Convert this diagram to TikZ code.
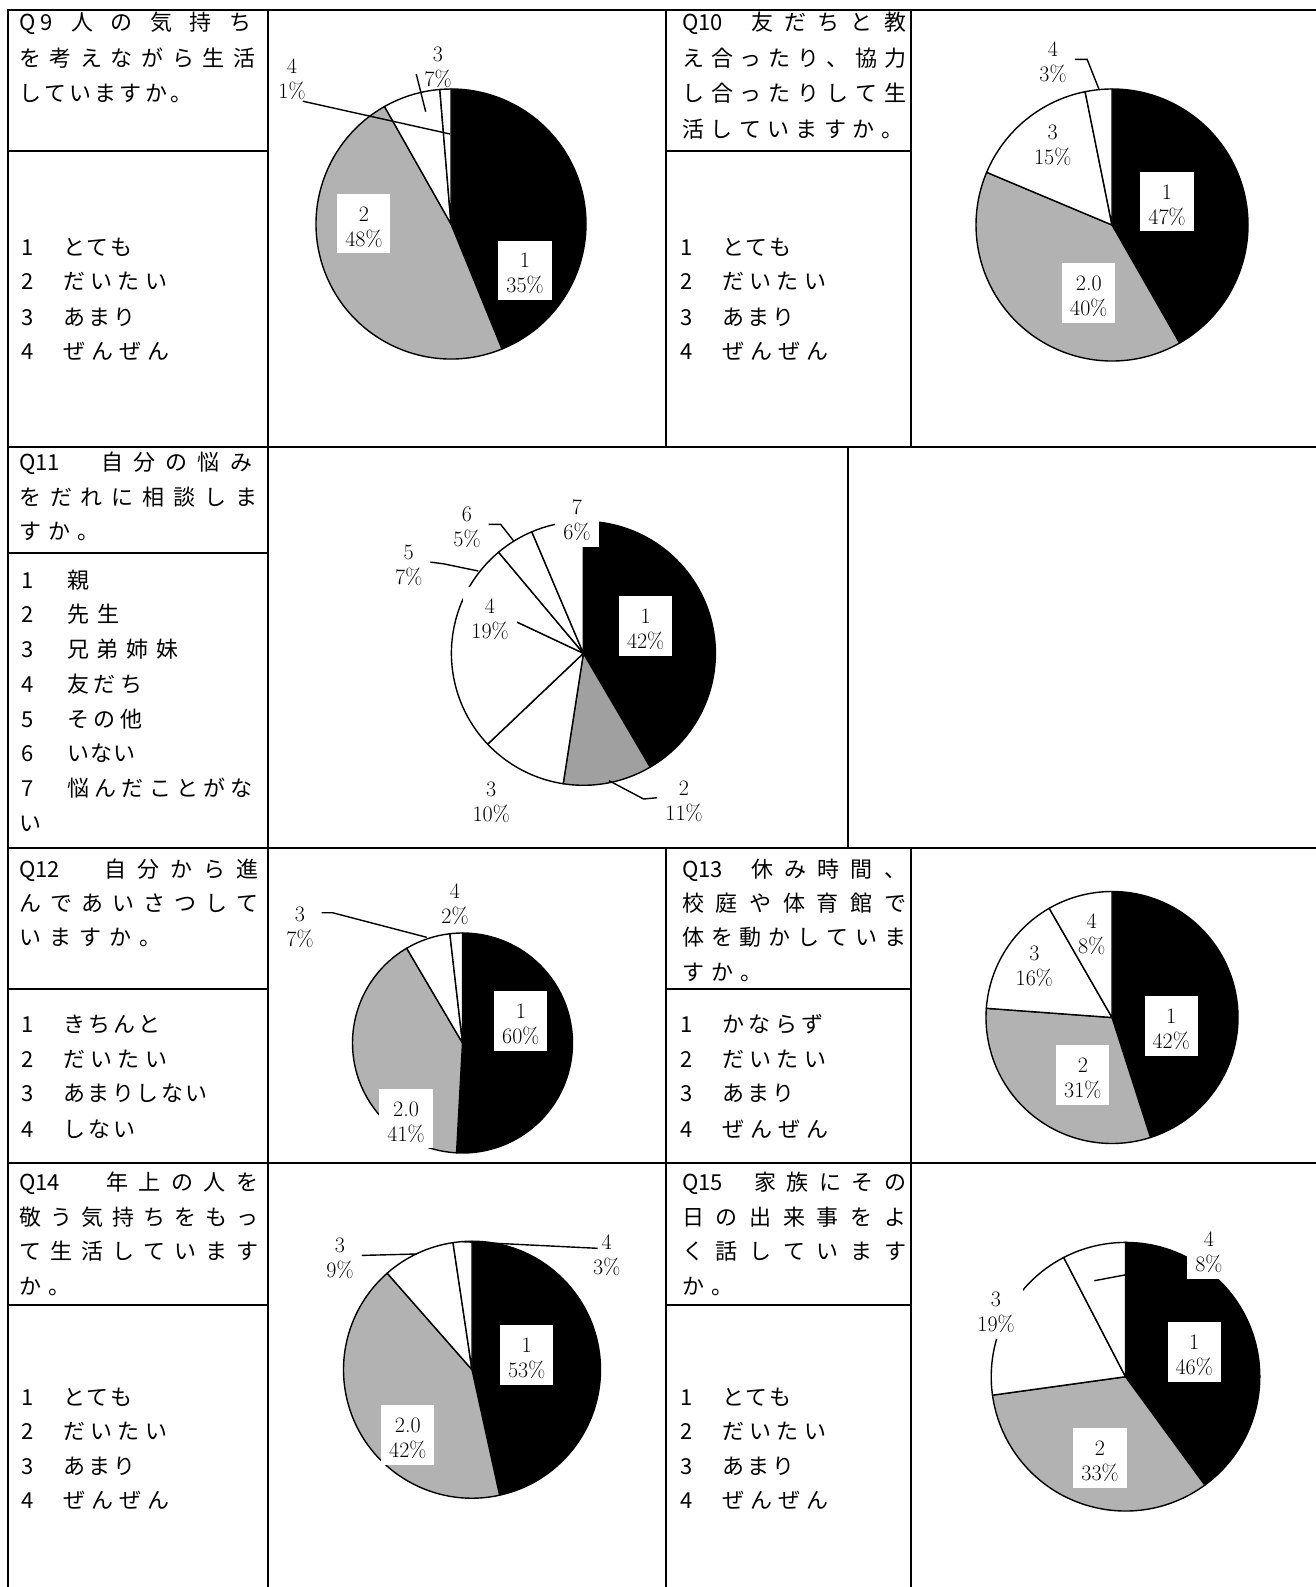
\documentclass[tikz,border=0pt]{standalone}
\usepackage{fontspec}
\newfontfamily\jf{Noto Sans CJK JP}
\newdimen\jpitch
\newcommand\jsend{}
\def\jploop#1{\ifx\jsend#1\else\makebox[\jpitch][l]{#1}\expandafter\jploop\fi}
\newcommand\pitched[2]{\jpitch=#1pt\relax\jploop#2\jsend}
\def\jsloop#1{\ifx\jsend#1\else#1\hfill\expandafter\jsloop\fi}
\newcommand\spreadto[2]{\makebox[#1pt][l]{\jsloop#2\jsend\unskip}}
\newcommand\optline[3]{\makebox[42pt][l]{#1}\pitched{#2}{#3}}
\newcommand\optlinew[3]{\makebox[46pt][l]{#1}\pitched{#2}{#3}}
\newcommand\labtxt[2]{\rule{0pt}{21pt}#1\\#2}
\definecolor{pgray}{RGB}{178,178,178}
\definecolor{pgrayd}{RGB}{160,160,160}
\newcommand\pieslice[6]{%
  \begin{scope}[shift={(#1,#2)},y=1pt]
    \filldraw[fill=#6,draw=black,line width=1.4pt,line join=round]
      (0,0) -- (#4:#3) arc[start angle=#4,end angle=#5,radius=#3] -- cycle;
  \end{scope}}
\tikzset{
  gline/.style={line width=2pt,line cap=rect},
  jt/.style={anchor=base west,inner sep=0pt,font={\jf\fontsize{22}{22}\selectfont}},
  lbl/.style={fill=white,inner xsep=8pt,inner ysep=6pt,align=center,anchor=center,
    font={\fontsize{22}{25}\selectfont}},
  lblc/.style={lbl,fill=none},
  leadln/.style={line width=1.4pt}
}
\begin{document}
\begin{tikzpicture}[x=1pt,y=-1pt]
\useasboundingbox (0,0) rectangle (1316,1587);
\fill[white] (0,0) rectangle (1316,1587);

% ---------------- grid ----------------
\draw[gline] (8,10) -- (1316,10);
\draw[gline] (8,447) -- (1316,447);
\draw[gline] (8,848) -- (1316,848);
\draw[gline] (8,1163) -- (1316,1163);
\draw[gline] (8,151) -- (268,151);
\draw[gline] (666,151) -- (911,151);
\draw[gline] (8,553) -- (268,553);
\draw[gline] (8,989) -- (268,989);
\draw[gline] (666,989) -- (911,989);
\draw[gline] (8,1305) -- (268,1305);
\draw[gline] (666,1305) -- (911,1305);
\draw[gline] (8,10) -- (8,1587);
\draw[gline] (268,10) -- (268,1587);
\draw[gline] (666,10) -- (666,447);
\draw[gline] (666,848) -- (666,1587);
\draw[gline] (911,10) -- (911,447);
\draw[gline] (911,848) -- (911,1587);
\draw[gline] (848,447) -- (848,848);

% ---------------- Q9 text ----------------
\node[jt] (q9a) at (19,30.7) {\pitched{21}{Q9}};
\node[jt] (q9b) at (71,30.7) {\spreadto{180}{人の気持ち}};
\node[jt] (q9c) at (19,66.1) {\spreadto{236}{を考えながら生活}};
\node[jt] (q9d) at (19,101.5) {\pitched{25.2}{していますか。}};
\node[jt] (q9o1) at (21,255.4) {\optline{1}{23.5}{とても}};
\node[jt] (q9o2) at (21,289.8) {\optline{2}{27.3}{だいたい}};
\node[jt] (q9o3) at (21,325.3) {\optline{3}{25}{あまり}};
\node[jt] (q9o4) at (21,359.7) {\optline{4}{28}{ぜんぜん}};

% ---------------- Q10 text ----------------
\node[jt] (q10a) at (682,30.7) {Q10};
\node[jt] (q10b) at (751,30.7) {\spreadto{155}{友だちと教}};
\node[jt] (q10c) at (682,66.1) {\spreadto{224}{え合ったり、協力}};
\node[jt] (q10d) at (682,101.5) {\spreadto{224}{し合ったりして生}};
\node[jt] (q10e) at (682,137) {\spreadto{221}{活していますか。}};
\node[jt] (q10o1) at (680,255.4) {\optline{1}{23.5}{とても}};
\node[jt] (q10o2) at (680,289.8) {\optline{2}{27.3}{だいたい}};
\node[jt] (q10o3) at (680,325.3) {\optline{3}{25}{あまり}};
\node[jt] (q10o4) at (680,359.7) {\optline{4}{28}{ぜんぜん}};

% ---------------- Q11 text ----------------
\node[jt] (q11a) at (19,470) {Q11};
\node[jt] (q11b) at (101,470) {\spreadto{151}{自分の悩み}};
\node[jt] (q11c) at (19,505.4) {\spreadto{238}{をだれに相談しま}};
\node[jt] (q11d) at (19,539.9) {\pitched{29}{すか。}};
\node[jt] (q11o1) at (21,588.4) {\optlinew{1}{28}{親}};
\node[jt] (q11o2) at (21,622.9) {\optlinew{2}{30.5}{先生}};
\node[jt] (q11o3) at (21,657.4) {\optlinew{3}{29.7}{兄弟姉妹}};
\node[jt] (q11o4) at (21,692.7) {\optlinew{4}{26.5}{友だち}};
\node[jt] (q11o5) at (21,727.1) {\optlinew{5}{26.5}{その他}};
\node[jt] (q11o6) at (21,761.6) {\optlinew{6}{23}{いない}};
\node[jt] (q11o7) at (21,796) {\optlinew{7}{27.3}{悩んだことがな}};
\node[jt] (q11o8) at (19,831.4) {い};

% ---------------- Q12 text ----------------
\node[jt] (q12a) at (19,877) {Q12};
\node[jt] (q12b) at (104,877) {\spreadto{154}{自分から進}};
\node[jt] (q12c) at (19,911.4) {\spreadto{239}{んであいさつして}};
\node[jt] (q12d) at (19,945.8) {\pitched{30}{いますか。}};
\node[jt] (q12o1) at (21,1032.9) {\optline{1}{25}{きちんと}};
\node[jt] (q12o2) at (21,1067.3) {\optline{2}{27.3}{だいたい}};
\node[jt] (q12o3) at (21,1101.7) {\optline{3}{24.5}{あまりしない}};
\node[jt] (q12o4) at (21,1137.1) {\optline{4}{25}{しない}};

% ---------------- Q13 text ----------------
\node[jt] (q13a) at (682,877) {Q13};
\node[jt] (q13b) at (751,877) {\spreadto{155}{休み時間、}};
\node[jt] (q13c) at (682,911.4) {\spreadto{224}{校庭や体育館で}};
\node[jt] (q13d) at (682,945.8) {\spreadto{224}{体を動かしていま}};
\node[jt] (q13e) at (682,980.2) {\pitched{29}{すか。}};
\node[jt] (q13o1) at (680,1032.9) {\optline{1}{26.5}{かならず}};
\node[jt] (q13o2) at (680,1067.3) {\optline{2}{27.3}{だいたい}};
\node[jt] (q13o3) at (680,1101.7) {\optline{3}{25}{あまり}};
\node[jt] (q13o4) at (680,1137.1) {\optline{4}{28}{ぜんぜん}};

% ---------------- Q14 text ----------------
\node[jt] (q14a) at (19,1190.8) {Q14};
\node[jt] (q14b) at (106,1190.8) {\spreadto{152}{年上の人を}};
\node[jt] (q14c) at (19,1225.2) {\spreadto{239}{敬う気持ちをもっ}};
\node[jt] (q14d) at (19,1259.6) {\spreadto{239}{て生活しています}};
\node[jt] (q14e) at (19,1294) {\pitched{29}{か。}};
\node[jt] (q14o1) at (21,1405.4) {\optline{1}{23.5}{とても}};
\node[jt] (q14o2) at (21,1439.8) {\optline{2}{27.3}{だいたい}};
\node[jt] (q14o3) at (21,1474.2) {\optline{3}{25}{あまり}};
\node[jt] (q14o4) at (21,1508.6) {\optline{4}{28}{ぜんぜん}};

% ---------------- Q15 text ----------------
\node[jt] (q15a) at (682,1190.8) {Q15};
\node[jt] (q15b) at (754,1190.8) {\spreadto{152}{家族にその}};
\node[jt] (q15c) at (682,1225.2) {\spreadto{224}{日の出来事をよ}};
\node[jt] (q15d) at (682,1259.6) {\spreadto{224}{く話しています}};
\node[jt] (q15e) at (682,1294) {\pitched{29}{か。}};
\node[jt] (q15o1) at (680,1405.4) {\optline{1}{23.5}{とても}};
\node[jt] (q15o2) at (680,1439.8) {\optline{2}{27.3}{だいたい}};
\node[jt] (q15o3) at (680,1474.2) {\optline{3}{25}{あまり}};
\node[jt] (q15o4) at (680,1508.6) {\optline{4}{28}{ぜんぜん}};

% ---------------- pies ----------------
% Q9
\pieslice{451}{224}{135}{90}{-67.8}{black}
\pieslice{451}{224}{135}{-67.8}{-240.5}{pgray}
\pieslice{451}{224}{135}{-240.5}{-265.25}{white}
\pieslice{451}{224}{135}{-265.25}{-270}{white}
% Q10
\pieslice{1112}{225}{136}{90}{-60.2}{black}
\pieslice{1112}{225}{136}{-60.2}{-202.8}{pgray}
\pieslice{1112}{225}{136}{-202.8}{-258.6}{white}
\pieslice{1112}{225}{136}{-258.6}{-270}{white}
% Q11
\pieslice{583.4}{653.3}{132}{90}{-59.6}{black}
\pieslice{583.4}{653.3}{132}{-59.6}{-98.8}{pgrayd}
\pieslice{583.4}{653.3}{132}{-98.8}{-136.5}{white}
\pieslice{583.4}{653.3}{132}{-136.5}{-205.2}{white}
\pieslice{583.4}{653.3}{132}{-205.2}{-230}{white}
\pieslice{583.4}{653.3}{132}{-230}{-247}{white}
\pieslice{583.4}{653.3}{132}{-247}{-270}{white}
% Q12
\pieslice{462.5}{1043}{110}{90}{-93.1}{black}
\pieslice{462.5}{1043}{110}{-93.1}{-239.5}{pgray}
\pieslice{462.5}{1043}{110}{-239.5}{-263.4}{white}
\pieslice{462.5}{1043}{110}{-263.4}{-270}{white}
% Q13
\pieslice{1112}{1017.5}{126}{90}{-72.2}{black}
\pieslice{1112}{1017.5}{126}{-72.2}{-184.2}{pgray}
\pieslice{1112}{1017.5}{126}{-184.2}{-240.1}{white}
\pieslice{1112}{1017.5}{126}{-240.1}{-270}{white}
% Q14
\pieslice{472}{1369.7}{128.5}{90}{-77.6}{black}
\pieslice{472}{1369.7}{128.5}{-77.6}{-228.7}{pgray}
\pieslice{472}{1369.7}{128.5}{-228.7}{-261.5}{white}
\pieslice{472}{1369.7}{128.5}{-261.5}{-270}{white}
% Q15
\pieslice{1125.5}{1376.7}{134.3}{90}{-53.8}{black}
\pieslice{1125.5}{1376.7}{134.3}{-53.8}{-172.1}{pgray}
\pieslice{1125.5}{1376.7}{134.3}{-172.1}{-242.6}{white}
\pieslice{1125.5}{1376.7}{134.3}{-242.6}{-270}{white}

% ---------------- data labels ----------------
\node[lbl]  (q9l1) at (525,270.3) {\labtxt{1}{35\%}};
\node[lbl]  (q9l2) at (363.9,223.7) {\labtxt{2}{48\%}};
\node[lblc] (q9l3) at (438,64.4) {\labtxt{3}{7\%}};
\node[lbl]  (q9l4) at (292,76.4) {\labtxt{4}{1\%}};

\node[lbl]  (q10l1) at (1167,201.7) {\labtxt{1}{47\%}};
\node[lbl]  (q10l2) at (1088.8,293) {\labtxt{2.0}{40\%}};
\node[lblc] (q10l3) at (1052.7,142.4) {\labtxt{3}{15\%}};
\node[lblc] (q10l4) at (1053,59.4) {\labtxt{4}{3\%}};

\node[lbl]  (q11l1) at (645.6,626) {\labtxt{1}{42\%}};
\node[lbl]  (q11l2) at (684,797.7) {\labtxt{2}{11\%}};
\node[lbl]  (q11l3) at (491.2,799.4) {\labtxt{3}{10\%}};
\node[lbl]  (q11l4) at (490,616.1) {\labtxt{4}{19\%}};
\node[lbl]  (q11l5) at (408.7,562.1) {\labtxt{5}{7\%}};
\node[lbl]  (q11l6) at (467,524.4) {\labtxt{6}{5\%}};
\node[lbl]  (q11l7) at (577,517.4) {\labtxt{7}{6\%}};

\node[lbl]  (q12l1) at (520.8,1020.9) {\labtxt{1}{60\%}};
\node[lbl]  (q12l2) at (406,1118.7) {\labtxt{2.0}{41\%}};
\node[lbl]  (q12l3) at (300,924.4) {\labtxt{3}{7\%}};
\node[lbl]  (q12l4) at (455,901.1) {\labtxt{4}{2\%}};

\node[lbl]  (q13l1) at (1171.2,1025.9) {\labtxt{1}{42\%}};
\node[lbl]  (q13l2) at (1082.8,1075) {\labtxt{2}{31\%}};
\node[lblc] (q13l3) at (1034.3,962.7) {\labtxt{3}{16\%}};
\node[lblc] (q13l4) at (1091.7,931.1) {\labtxt{4}{8\%}};

\node[lbl]  (q14l1) at (526.7,1355) {\labtxt{1}{53\%}};
\node[lbl]  (q14l2) at (407.8,1435) {\labtxt{2.0}{42\%}};
\node[lbl]  (q14l3) at (340,1255.4) {\labtxt{3}{9\%}};
\node[lbl]  (q14l4) at (606.7,1252.1) {\labtxt{4}{3\%}};

\node[lbl]  (q15l1) at (1194.2,1352) {\labtxt{1}{46\%}};
\node[lbl]  (q15l2) at (1100,1458) {\labtxt{2}{33\%}};
\node[lbl]  (q15l3) at (996,1309.4) {\labtxt{3}{19\%}};
\node[lbl]  (q15l4) at (1208.8,1249.4) {\labtxt{4}{8\%}};

% ---------------- leader lines ----------------
\coordinate (q9p3) at (425.7,111.7);
\coordinate (q9p4) at (450,134);
\coordinate (q10p4) at (1099,89.3);
\coordinate (q11p6) at (513.5,540.7);
\coordinate (q11p5) at (478.2,571);
\coordinate (q11p2) at (609,780.7);
\coordinate (q12p3) at (426.7,937.3);
\coordinate (q14p3) at (416.7,1254);
\coordinate (q14p4) at (463,1241.7);
\coordinate (q15p4) at (1094.3,1280.7);

\draw[leadln] ([yshift=-9.6pt]q9l3.west) -- (q9p3);
\draw[leadln] ([xshift=-11pt,yshift=5pt]q9l4.south east) -- (q9p4);
\draw[leadln] (q10l4.east) -- ++(12.4,0) -- (q10p4);
\draw[leadln] (q11l6.east) -- ++(11.9,0) -- (q11p6);
\draw[leadln] (q11l5.east) -- ++(13,1.7) -- (q11p5);
\draw[leadln] (q11p2) -- ++(34.6,18.3) -- (q11l2.west);
\draw[leadln] ([yshift=11.7pt]q12l3.east) -- ++(10.7,0) -- (q12p3);
\draw[leadln] (q14l3.east) -- (q14p3);
\draw[leadln] ([xshift=12.6pt,yshift=3.8pt]q14l4.west) -- (q14p4);
\draw[leadln] ([yshift=-13.9pt]q15l4.west) -- (q15p4);
\end{tikzpicture}
\end{document}
